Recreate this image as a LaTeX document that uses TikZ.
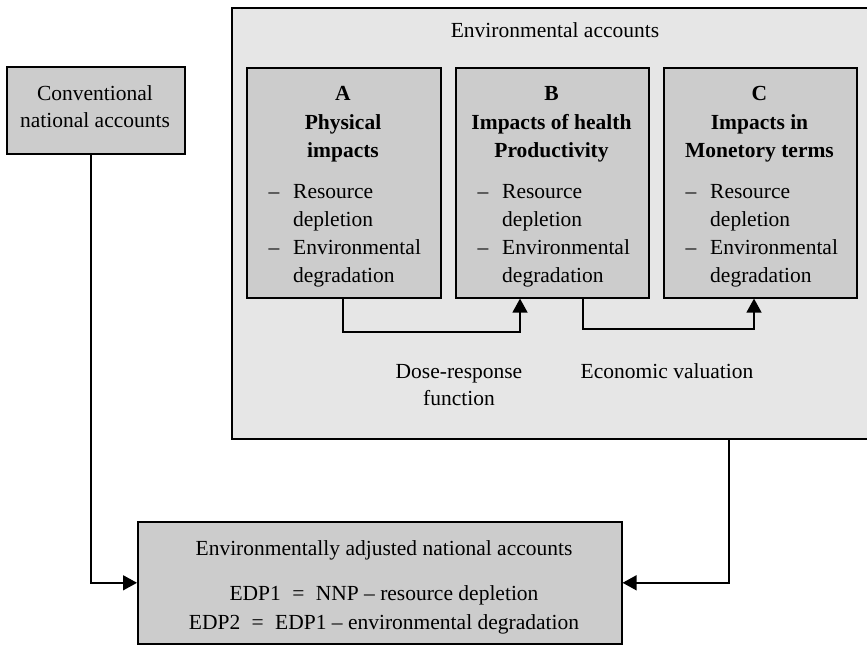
\documentclass[tikz,border=0pt]{standalone}
\usepackage{fontspec}
\setmainfont{Liberation Serif}
\usetikzlibrary{arrows.meta,calc}
\definecolor{outerfill}{HTML}{E6E6E6}
\definecolor{boxfill}{HTML}{CCCCCC}
\newcommand\mylist[1]{%
  \node[txt,anchor=base] (#1-d1) at ($(#1.north west)+(28,131)$) {--};
  \node[txt,anchor=base west] (#1-r) at ($(#1.north west)+(47,131)$) {Resource};
  \node[txt,anchor=base west] (#1-dp) at ($(#1.north west)+(47,159)$) {depletion};
  \node[txt,anchor=base] (#1-d2) at ($(#1.north west)+(28,187)$) {--};
  \node[txt,anchor=base west] (#1-e) at ($(#1.north west)+(47,187)$) {Environmental};
  \node[txt,anchor=base west] (#1-dg) at ($(#1.north west)+(47,215)$) {degradation};
}
\newcommand\myeq{\hspace{6pt}=\hspace{6pt}}
\begin{document}
\begin{tikzpicture}[x=1pt,y=-1pt,
  outerbox/.style={draw=black,line width=2pt,fill=outerfill,anchor=north west,inner sep=0pt},
  innerbox/.style={draw=black,line width=1.6pt,fill=boxfill,anchor=north west,inner sep=0pt},
  txt/.style={font=\fontsize{21.5}{28}\selectfont,inner sep=0pt},
  boldtxt/.style={font=\fontsize{21.5}{28}\selectfont\bfseries,inner sep=0pt,anchor=base},
  conn/.style={line width=1.5pt,-{Triangle[length=14pt,width=15pt]}},
]
\clip (0,0) rectangle (867,645);
\useasboundingbox (0,0) rectangle (867,645);

% outer environmental accounts box
\node[outerbox,minimum width=660pt,minimum height=431pt] (env) at (231,7) {};
\node[txt,anchor=base] (envt) at (555,37) {Environmental accounts};

% inner boxes
\node[innerbox,minimum width=194pt,minimum height=230pt] (A) at (246,67) {};
\node[innerbox,minimum width=193pt,minimum height=230pt] (B) at (455,67) {};
\node[innerbox,minimum width=193pt,minimum height=230pt] (C) at (663,67) {};

\node[boldtxt] (A1) at (343,100) {A};
\node[boldtxt] (A2) at (343,129) {Physical};
\node[boldtxt] (A3) at (343,157) {impacts};
\node[boldtxt] (B1) at (551.5,100) {B};
\node[boldtxt] (B2) at (551.5,129) {Impacts of health};
\node[boldtxt] (B3) at (551.5,157) {Productivity};
\node[boldtxt] (C1) at (759.5,100) {C};
\node[boldtxt] (C2) at (759.5,129) {Impacts in};
\node[boldtxt] (C3) at (759.5,157) {Monetory terms};

\mylist{A}
\mylist{B}
\mylist{C}

% connectors between boxes
\coordinate (ab1) at (343,332);
\coordinate (ab2) at (520,332);
\draw[conn] (A.south -| ab1) -- (ab1) -- (ab2) -- (B.south -| ab2);
\coordinate (bc1) at (583,329);
\coordinate (bc2) at (754,329);
\draw[conn] (B.south -| bc1) -- (bc1) -- (bc2) -- (C.south -| bc2);

\node[txt,anchor=base] (dr1) at (459,378) {Dose-response};
\node[txt,anchor=base] (dr2) at (459,405) {function};
\node[txt,anchor=base] (ev) at (667,378) {Economic valuation};

% conventional box
\node[innerbox,minimum width=178pt,minimum height=87pt] (conv) at (6,66) {};
\node[txt,anchor=base] (cv1) at (95,100) {Conventional};
\node[txt,anchor=base] (cv2) at (95,127) {national accounts};

% bottom box
\node[innerbox,minimum width=484pt,minimum height=122pt] (bot) at (137,521) {};
\node[txt,anchor=base] (bt1) at (384,555) {Environmentally adjusted national accounts};
\node[txt,anchor=base] (bt2) at (384,600) {EDP1 \myeq{} NNP -- resource depletion};
\node[txt,anchor=base] (bt3) at (384,629) {EDP2 \myeq{} EDP1 -- environmental degradation};

% outer connectors
\coordinate (lc) at (91,581);
\draw[conn] (conv.south -| lc) |- (bot.west);
\coordinate (rc) at (729,581);
\draw[conn] (env.south -| rc) |- (bot.east);
\end{tikzpicture}
\end{document}
